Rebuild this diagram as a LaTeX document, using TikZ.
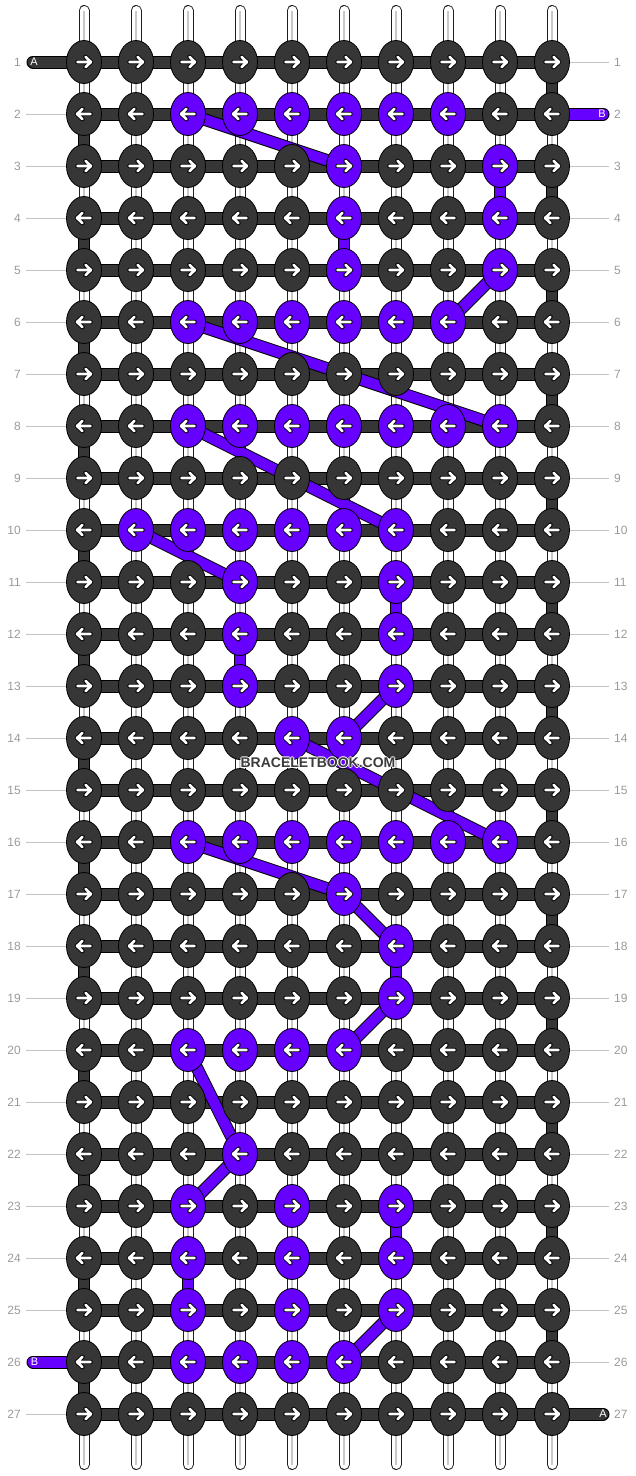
\documentclass[tikz,border=0pt]{standalone}
\usepackage{fontspec}
\setmainfont{Liberation Sans}
\usetikzlibrary{shapes.geometric}
\definecolor{kdark}{HTML}{363636}
\definecolor{kpurple}{HTML}{6600FF}
\definecolor{lblgray}{HTML}{9A9A9A}
\definecolor{linegray}{HTML}{C4C4C4}
\definecolor{strgray}{HTML}{C8C8C8}
\definecolor{wmgray}{HTML}{3C3C3C}
\pgfdeclarelayer{lyrA}\pgfdeclarelayer{lyrB}\pgfdeclarelayer{lyrC}
\pgfsetlayers{lyrA,lyrB,lyrC,main}
\newcommand\wmhalo[1]{\leavevmode\rlap{\kern-1pt\textcolor{white}{#1}}\rlap{\kern1pt\textcolor{white}{#1}}\rlap{\raisebox{1pt}{\textcolor{white}{#1}}}\rlap{\raisebox{-1pt}{\textcolor{white}{#1}}}\textcolor{wmgray}{#1}}
\tikzset{
  knot/.style={ellipse, draw=black, line width=0.8pt, minimum width=35pt, minimum height=43pt, inner sep=0pt},
  barout/.style={draw=black, line width=13pt},
  barin/.style={draw=kdark, line width=11pt},
  strout/.style={draw=black!88, line width=11pt, line cap=round},
  strin/.style={draw=white, line width=9pt, line cap=round},
  strmid/.style={draw=strgray, line width=1.2pt},
  segout/.style={draw=black, line width=12pt},
  segin/.style={line width=10pt},
  arrbk/.style={draw=black, line width=4.4pt, line cap=round, line join=round},
  arrwh/.style={draw=white, line width=2.6pt, line cap=round, line join=round},
  rowlbl/.style={inner sep=0pt, text=lblgray, font=\fontsize{12}{12}\selectfont},
  lblline/.style={draw=linegray, line width=1pt},
  edgelbl/.style={inner sep=0pt, text=white, font=\fontsize{11}{11}\selectfont}
}
\begin{document}
\begin{tikzpicture}[x=1pt,y=-1pt]
\useasboundingbox (0,0) rectangle (636,1476);
% purple knots
\foreach \rr/\cl in {2/{3,4,5,6,7,8}, 3/{6,9}, 4/{6,9}, 5/{6,9}, 6/{3,4,5,6,7,8}, 8/{3,4,5,6,7,8,9}, 10/{2,3,4,5,6,7}, 11/{4,7}, 12/{4,7}, 13/{4,7}, 14/{5,6}, 16/{3,4,5,6,7,8,9}, 17/{6}, 18/{7}, 19/{7}, 20/{3,4,5,6}, 22/{4}, 23/{3,5,7}, 24/{3,5,7}, 25/{3,5,7}, 26/{3,4,5,6}}{
  \foreach \cc in \cl {\expandafter\gdef\csname pk\rr-\cc\endcsname{}}
}
% knots and arrows
\foreach \rr in {1,...,27}{
  \foreach \cc in {1,...,10}{
    \ifcsname pk\rr-\cc\endcsname\def\kc{kpurple}\else\def\kc{kdark}\fi
    \node[knot, fill=\kc] (k\rr-\cc) at ({84+52*(\cc-1)},{62+52*(\rr-1)}) {};
    \ifodd\rr\relax\def\ax{1}\else\def\ax{-1}\fi
    \draw[arrbk, shift={(k\rr-\cc.center)}, xscale=\ax] (-6.5,0) -- (6.5,0) (1.5,-5.2) -- (7,0) -- (1.5,5.2);
    \draw[arrwh, shift={(k\rr-\cc.center)}, xscale=\ax] (-6.5,0) -- (6.5,0) (1.5,-5.2) -- (7,0) -- (1.5,5.2);
  }
}
% row labels
\foreach \rr in {1,...,27}{
  \node[rowlbl, anchor=east] (nl\rr) at (21,{62+52*(\rr-1)}) {\rr};
  \node[rowlbl, anchor=west] (nr\rr) at (614,{62+52*(\rr-1)}) {\rr};
}
% edge strings coordinates and letters
\coordinate (eA1) at (33,62);
\coordinate (eB2) at (603,114);
\coordinate (eB26) at (33,1362);
\coordinate (eA27) at (603,1414);
\node[edgelbl] (tA1) at (34,62) {A};
\node[edgelbl] (tB2) at (602,114) {B};
\node[edgelbl] (tB26) at (34.5,1362) {B};
\node[edgelbl] (tA27) at (603,1414) {A};
% watermark
\node[inner sep=0pt, font=\bfseries\fontsize{14}{14}\selectfont] (wm) at (318,763) {\wmhalo{BRACELETBOOK.COM}};

\begin{pgfonlayer}{lyrA}
  \foreach \rr in {2,...,25,27}{
    \draw[lblline] ([xshift=5pt]nl\rr.east) -- (k\rr-1.west);
  }
  \foreach \rr in {1,3,4,...,26}{
    \draw[lblline] (k\rr-10.east) -- ([xshift=-5pt]nr\rr.west);
  }
  \foreach \cc in {1,...,10}{
    \coordinate (st\cc) at ({84+52*(\cc-1)},10.5);
    \coordinate (sb\cc) at ({84+52*(\cc-1)},1464.5);
    \draw[strout] (st\cc) -- (sb\cc);
    \draw[strin] (st\cc) -- (sb\cc);
    \draw[strmid] (st\cc) -- (sb\cc);
  }
\end{pgfonlayer}

\begin{pgfonlayer}{lyrB}
  \foreach \rr in {1,...,27}{
    \draw[barout] (k\rr-1.center) -- (k\rr-10.center);
    \draw[barin] (k\rr-1.center) -- (k\rr-10.center);
  }
  \draw[barout, line cap=round] (eA1) -- (k1-1.center);
  \draw[barin, line cap=round] (eA1) -- (k1-1.center);
  \draw[barout, line cap=round] (eA27) -- (k27-10.center);
  \draw[barin, line cap=round] (eA27) -- (k27-10.center);
  \draw[barout, line cap=round] (eB2) -- (k2-10.center);
  \draw[barin, draw=kpurple, line cap=round] (eB2) -- (k2-10.center);
  \draw[barout, line cap=round] (eB26) -- (k26-1.center);
  \draw[barin, draw=kpurple, line cap=round] (eB26) -- (k26-1.center);
\end{pgfonlayer}

\begin{pgfonlayer}{lyrC}
  % dark turns at the edges
  \foreach \rr in {2,4,...,26}{
    \pgfmathtruncatemacro\rn{\rr+1}
    \draw[segout, line width=11.5pt] (k\rr-1.center) -- (k\rn-1.center);
    \draw[segin, line width=9.5pt, draw=kdark] (k\rr-1.center) -- (k\rn-1.center);
  }
  \foreach \rr in {1,3,...,25}{
    \pgfmathtruncatemacro\rn{\rr+1}
    \draw[segout, line width=11.5pt] (k\rr-10.center) -- (k\rn-10.center);
    \draw[segin, line width=9.5pt, draw=kdark] (k\rr-10.center) -- (k\rn-10.center);
  }
  % purple verticals
  \foreach \rr/\cc in {3/9, 4/6, 11/7, 12/4, 18/7, 23/7, 24/3}{
    \pgfmathtruncatemacro\rn{\rr+1}
    \draw[segout] (k\rr-\cc.center) -- (k\rn-\cc.center);
    \draw[segin, draw=kpurple] (k\rr-\cc.center) -- (k\rn-\cc.center);
  }
  % purple diagonals
  \foreach \pa/\pb/\pc/\pd in {2/3/3/6, 5/9/6/8, 6/3/8/9, 8/3/10/7, 10/2/11/4, 13/7/14/6, 14/5/16/9, 16/3/17/6, 17/6/18/7, 19/7/20/6, 20/3/22/4, 22/4/23/3, 25/7/26/6}{
    \draw[segout, line width=12.5pt] (k\pa-\pb.center) -- (k\pc-\pd.center);
  }
  \foreach \pa/\pb/\pc/\pd in {2/3/3/6, 5/9/6/8, 6/3/8/9, 8/3/10/7, 10/2/11/4, 13/7/14/6, 14/5/16/9, 16/3/17/6, 17/6/18/7, 19/7/20/6, 20/3/22/4, 22/4/23/3, 25/7/26/6}{
    \draw[segin, line width=10.5pt, draw=kpurple] (k\pa-\pb.center) -- (k\pc-\pd.center);
  }
\end{pgfonlayer}
\end{tikzpicture}
\end{document}
